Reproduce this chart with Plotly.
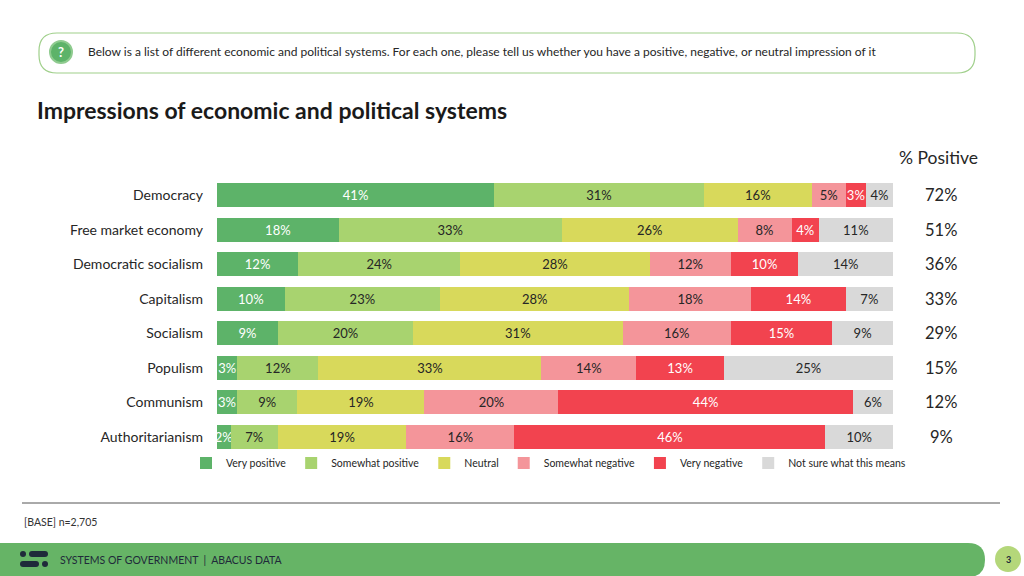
import plotly.graph_objects as go

# survey data
systems = ['Democracy', 'Free market economy', 'Democratic socialism', 'Capitalism',
           'Socialism', 'Populism', 'Communism', 'Authoritarianism']
very_pos = [41, 18, 12, 10, 9, 3, 3, 2]
some_pos = [31, 33, 24, 23, 20, 12, 9, 7]
neutral = [16, 26, 28, 28, 31, 33, 19, 19]
some_neg = [5, 8, 12, 18, 16, 14, 20, 16]
very_neg = [3, 4, 10, 14, 15, 13, 44, 46]
not_sure = [4, 11, 14, 7, 9, 25, 6, 10]
pct_positive = [72, 51, 36, 33, 29, 15, 12, 9]

series = [
    ('Very positive', very_pos, '#5db369', 'white'),
    ('Somewhat positive', some_pos, '#a8d36f', '#262626'),
    ('Neutral', neutral, '#d8d95b', '#262626'),
    ('Somewhat negative', some_neg, '#f4959a', '#262626'),
    ('Very negative', very_neg, '#f2434f', 'white'),
    ('Not sure what this means', not_sure, '#d9d9d9', '#262626'),
]

W, H = 1024, 576
L, R, T, B = 217, 893, 178, 454
FONT = 'Lato'


def fx(px):
    return (px - L) / (R - L)


def fy(py):
    return (B - py) / (B - T)


fig = go.Figure()
for name, vals, col, tcol in series:
    fig.add_trace(go.Bar(
        y=systems, x=vals, name=name, orientation='h',
        marker=dict(color=col, line=dict(width=0)),
        text=[f'{v}%' for v in vals],
        textposition='inside', insidetextanchor='middle', textangle=0,
        textfont=dict(color=tcol, size=13, family=FONT),
        hoverinfo='skip',
    ))


def note(px, py, text, size, color='#262626', anchor='center', bold=False):
    return dict(x=fx(px), y=fy(py), xref='paper', yref='paper', xanchor=anchor, yanchor='middle',
                text=f'<b>{text}</b>' if bold else text, showarrow=False,
                font=dict(size=size, color=color, family=FONT))


annotations = []
for s, p in zip(systems, pct_positive):
    annotations.append(dict(x=fx(941), xref='paper', y=s, yref='y', text=f'{p}%',
                            xanchor='center', yanchor='middle', showarrow=False,
                            font=dict(size=16.5, color='#262626', family=FONT)))
annotations += [
    note(938, 157, '% Positive', 17.5),
    note(35, 110, 'Impressions of economic and political systems', 23, '#1a1a1a', 'left', True),
    note(86, 52, 'Below is a list of different economic and political systems. For each one, please tell us '
                 'whether you have a positive, negative, or neutral impression of it', 12, anchor='left'),
    note(61, 52, '?', 13, 'white', bold=True),
    note(22, 522, '[BASE] n=2,705', 10.5, '#333333', 'left'),
    note(58, 560, 'SYSTEMS OF GOVERNMENT  |  ABACUS DATA', 10.5, '#1f2a3a', 'left'),
    note(1008, 559, '3', 9, '#1f2a3a', bold=True),
]


def rrect(x0, y0, x1, y1, r):
    # rounded rectangle path in paper coords, built from pixel corners
    pts = (f'M {fx(x0 + r)},{fy(y0)} L {fx(x1 - r)},{fy(y0)} '
           f'Q {fx(x1)},{fy(y0)} {fx(x1)},{fy(y0 + r)} L {fx(x1)},{fy(y1 - r)} '
           f'Q {fx(x1)},{fy(y1)} {fx(x1 - r)},{fy(y1)} L {fx(x0 + r)},{fy(y1)} '
           f'Q {fx(x0)},{fy(y1)} {fx(x0)},{fy(y1 - r)} L {fx(x0)},{fy(y0 + r)} '
           f'Q {fx(x0)},{fy(y0)} {fx(x0 + r)},{fy(y0)} Z')
    return pts


footer_path = (f'M {fx(0)},{fy(543)} L {fx(968)},{fy(543)} '
               f'Q {fx(985)},{fy(543)} {fx(985)},{fy(560)} '
               f'Q {fx(985)},{fy(577)} {fx(968)},{fy(577)} L {fx(0)},{fy(577)} Z')

shapes = [
    dict(type='path', path=rrect(39, 33, 975, 73, 18), xref='paper', yref='paper',
         line=dict(color='#9fcf8a', width=1.2), fillcolor='white', layer='below'),
    dict(type='circle', xref='paper', yref='paper', x0=fx(50), x1=fx(72), y0=fy(41), y1=fy(63),
         fillcolor='#5db369', line=dict(color='#8fcb8f', width=2), layer='below'),
    dict(type='line', xref='paper', yref='paper', x0=fx(22), x1=fx(1000), y0=fy(503), y1=fy(503),
         line=dict(color='#555555', width=1)),
    dict(type='path', path=footer_path, xref='paper', yref='paper',
         fillcolor='#66b466', line=dict(width=0), layer='below'),
    dict(type='circle', xref='paper', yref='paper', x0=fx(995), x1=fx(1021), y0=fy(546), y1=fy(572),
         fillcolor='#b4d77a', line=dict(width=0), layer='below'),
    # little logo
    dict(type='circle', xref='paper', yref='paper', x0=fx(20), x1=fx(26), y0=fy(551), y1=fy(557),
         fillcolor='#1f2a3a', line=dict(width=0)),
    dict(type='path', path=rrect(29, 551, 48, 557, 3), xref='paper', yref='paper',
         fillcolor='#1f2a3a', line=dict(width=0)),
    dict(type='path', path=rrect(20, 561, 39, 567, 3), xref='paper', yref='paper',
         fillcolor='#1f2a3a', line=dict(width=0)),
    dict(type='circle', xref='paper', yref='paper', x0=fx(42), x1=fx(48), y0=fy(561), y1=fy(567),
         fillcolor='#1f2a3a', line=dict(width=0)),
]

fig.update_layout(
    width=W, height=H,
    margin=dict(l=L, r=W - R, t=T, b=H - B),
    barmode='stack', barnorm='percent', bargap=0.3,
    paper_bgcolor='white', plot_bgcolor='white',
    font=dict(family=FONT, color='#262626'),
    uniformtext=dict(minsize=13, mode='show'),
    xaxis=dict(visible=False, range=[0, 100], fixedrange=True),
    yaxis=dict(autorange='reversed', showgrid=False, showline=False, ticks='',
               ticklabelstandoff=13, tickfont=dict(size=14, color='#262626', family=FONT)),
    legend=dict(orientation='h', x=fx(186), xanchor='left',
                y=fy(463), yanchor='middle', itemwidth=30,
                font=dict(size=10.5, color='#262626', family=FONT),
                traceorder='normal', bgcolor='rgba(0,0,0,0)'),
    showlegend=True,
    annotations=annotations,
    shapes=shapes,
)

fig.write_html('out.html', config={'displayModeBar': False},
               post_script="document.body.style.margin='0px';")
